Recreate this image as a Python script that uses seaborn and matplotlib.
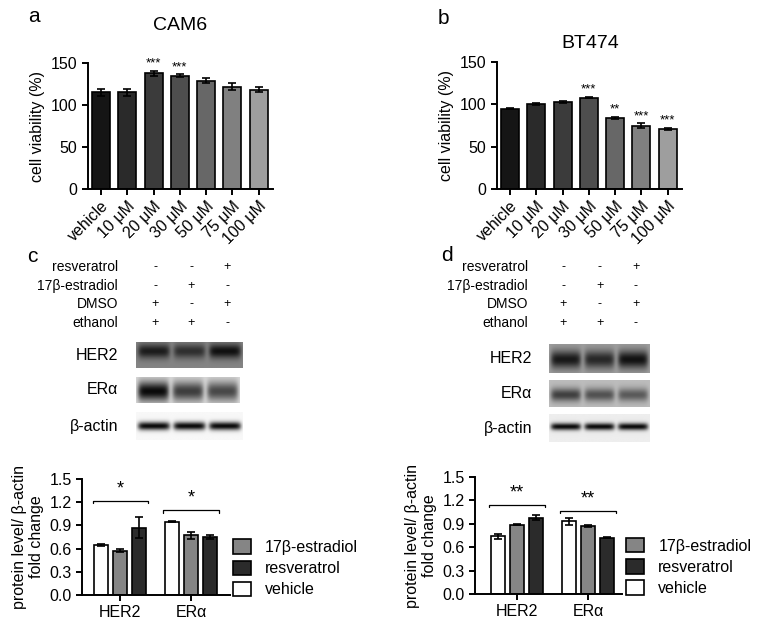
import numpy as np
import pandas as pd
import matplotlib
matplotlib.use('Agg')
import matplotlib.pyplot as plt
import seaborn as sns
from matplotlib.patches import Patch

sns.set_style('ticks')
plt.rcParams['font.family'] = ['Liberation Sans', 'DejaVu Sans']
plt.rcParams.update({
    'axes.linewidth': 1.4,
    'axes.edgecolor': 'black',
    'axes.labelcolor': 'black',
    'text.color': 'black',
    'xtick.color': 'black',
    'ytick.color': 'black',
    'xtick.major.width': 1.4,
    'ytick.major.width': 1.4,
    'xtick.major.size': 4,
    'ytick.major.size': 4,
    'xtick.labelsize': 11.5,
    'ytick.labelsize': 11.5,
    'axes.labelsize': 11.5,
})

# --- data ---
doses = ['vehicle', '10 μM', '20 μM', '30 μM', '50 μM', '75 μM', '100 μM']
cam6_mean = [115, 115, 138, 135, 129, 122, 118]
cam6_sd = [4, 4, 3, 2, 3, 4, 3]
cam6_sig = ['', '', '***', '***', '', '', '']
bt474_mean = [95, 100, 103, 108, 84, 75, 71]
bt474_sd = [1, 1, 1.5, 1, 1.5, 3, 1.5]
bt474_sig = ['', '', '', '***', '**', '***', '***']
dose_grays = ['#151515', '#2a2a2a', '#3b3b3b', '#4e4e4e', '#676767', '#808080', '#9e9e9e']

treat_rows = ['resveratrol', '17β-estradiol', 'DMSO', 'ethanol']
treat_signs = [['-', '-', '+'], ['-', '+', '-'], ['+', '-', '+'], ['+', '+', '-']]
blot_names = ['HER2', 'ERα', 'β-actin']

proteins = ['HER2', 'ERα']
treatments = ['vehicle', '17β-estradiol', 'resveratrol']
c_vehicle = [0.65, 0.95]
c_vehicle_sd = [0.01, 0.01]
c_estradiol = [0.57, 0.77]
c_estradiol_sd = [0.02, 0.045]
c_resveratrol = [0.87, 0.75]
c_resveratrol_sd = [0.135, 0.02]
c_sig = ['*', '*']
c_bracket = [1.22, 1.10]
d_vehicle = [0.74, 0.93]
d_vehicle_sd = [0.03, 0.04]
d_estradiol = [0.89, 0.87]
d_estradiol_sd = [0.01, 0.015]
d_resveratrol = [0.98, 0.72]
d_resveratrol_sd = [0.03, 0.005]
d_sig = ['**', '**']
d_bracket = [1.145, 1.07]
treat_colors = {'vehicle': 'white', '17β-estradiol': '#858585', 'resveratrol': '#2b2b2b'}

# band darkness per lane (blot panels, rough reading of the images)
c_blot_levels = [[0.85, 0.7, 0.95], [1.0, 0.75, 0.7], [1.0, 1.0, 1.0]]
d_blot_levels = [[0.9, 0.8, 0.95], [0.7, 0.6, 0.55], [1.0, 1.0, 1.0]]

W, H = 780, 628
fig = plt.figure(figsize=(W / 100, H / 100), dpi=100)


def px_axes(left, top, right, bottom):
    return fig.add_axes([left / W, 1 - bottom / H, (right - left) / W, (bottom - top) / H])


def viability_panel(box, means, sds, sig, title, letter, letter_xy, title_xy):
    ax = px_axes(*box)
    df = pd.DataFrame({'dose': doses, 'viability': means})
    sns.barplot(data=df, x='dose', y='viability', hue='dose', palette=dose_grays,
                width=0.69, edgecolor='black', linewidth=1.2, errorbar=None,
                legend=False, ax=ax)
    bars = sorted(ax.patches, key=lambda p: p.get_x())
    xs = [p.get_x() + p.get_width() / 2 for p in bars]
    ax.errorbar(xs, means, yerr=sds, fmt='none', ecolor='black', elinewidth=1.2,
                capsize=3, capthick=1.2, clip_on=False)
    for x, m, s, t in zip(xs, means, sds, sig):
        if t:
            ax.text(x, m + s + 1.0, t, ha='center', va='bottom', fontsize=9.5)
    ax.set_ylim(0, 150)
    ax.set_xlim(-0.5, 6.55)
    ax.set_yticks([0, 50, 100, 150])
    ax.set_xlabel('')
    ax.set_ylabel('cell viability (%)', labelpad=4)
    ax.set_xticks(range(len(doses)))
    ax.set_xticklabels(doses, rotation=45, ha='right', rotation_mode='anchor')
    ax.tick_params(axis='x', pad=3)
    sns.despine(ax=ax)
    fig.text(title_xy[0] / W, 1 - title_xy[1] / H, title, ha='center', va='center', fontsize=14)
    fig.text(letter_xy[0] / W, 1 - letter_xy[1] / H, letter, ha='center', va='center', fontsize=15)


def treatment_table(label_x, sign_xs, rows_y):
    for name, signs, y in zip(treat_rows, treat_signs, rows_y):
        fig.text(label_x / W, 1 - y / H, name, ha='right', va='center', fontsize=10)
        for sx, s in zip(sign_xs, signs):
            fig.text(sx / W, 1 - y / H, s, ha='center', va='center', fontsize=9)


def draw_blot(box, levels, bg, band_y, band_h):
    ax = px_axes(*box)
    ny, nx = 60, 300
    yy = np.linspace(0, 1, ny)[:, None]
    xx = np.linspace(0, 1, nx)[None, :]
    img = np.full((ny, nx), bg)
    n = len(levels)
    for i, lv in enumerate(levels):
        c = (i + 0.5) / n
        lane = np.exp(-((xx - c) / (0.45 / n)) ** 8)
        band = np.exp(-((yy - band_y) / band_h) ** 2)
        img = img - (bg - 0.04) * lv * lane * band
    ax.imshow(img, cmap='gray', vmin=0, vmax=1, aspect='auto', extent=(0, 1, 1, 0))
    ax.axis('off')


def quant_panel(box, xlim, veh, veh_sd, est, est_sd, res, res_sd, sig, bracket, leg_pos):
    ax = px_axes(*box)
    df = pd.DataFrame({
        'protein': proteins * 3,
        'treatment': [t for t in treatments for _ in proteins],
        'value': veh + est + res,
    })
    sds = {'vehicle': veh_sd, '17β-estradiol': est_sd, 'resveratrol': res_sd}
    vals = {'vehicle': veh, '17β-estradiol': est, 'resveratrol': res}
    sns.barplot(data=df, x='protein', y='value', hue='treatment', hue_order=treatments,
                palette=treat_colors, edgecolor='black', linewidth=1.2, errorbar=None,
                gap=0.25, legend=False, ax=ax)
    for cont, t in zip(ax.containers, treatments):
        xs = [b.get_x() + b.get_width() / 2 for b in cont]
        ax.errorbar(xs, vals[t], yerr=sds[t], fmt='none', ecolor='black', elinewidth=1.2,
                    capsize=3, capthick=1.2)
    for i, (s, yb) in enumerate(zip(sig, bracket)):
        x0, x1 = i - 0.39, i + 0.39
        ax.plot([x0, x0, x1, x1], [yb - 0.035, yb, yb, yb - 0.035], color='black',
                lw=0.9, clip_on=False)
        ax.text(i, yb + 0.04, s, ha='center', va='bottom', fontsize=13)
    ax.set_ylim(0, 1.5)
    ax.set_xlim(*xlim)
    ax.set_yticks([0, 0.3, 0.6, 0.9, 1.2, 1.5])
    ax.set_yticklabels(['0.0', '0.3', '0.6', '0.9', '1.2', '1.5'])
    ax.set_xlabel('')
    ax.set_ylabel('protein level/ β-actin\nfold change', labelpad=4, linespacing=1.15)
    sns.despine(ax=ax)
    handles = [Patch(facecolor=treat_colors[t], edgecolor='black', linewidth=1.2)
               for t in ['17β-estradiol', 'resveratrol', 'vehicle']]
    ax.legend(handles, ['17β-estradiol', 'resveratrol', 'vehicle'], loc='center left',
              bbox_to_anchor=leg_pos, frameon=False, fontsize=11.5, handlelength=1.1,
              handleheight=1.0, labelspacing=0.35, handletextpad=0.9, borderpad=0,
              borderaxespad=0)


# a / b
viability_panel((88, 63, 273, 189), cam6_mean, cam6_sd, cam6_sig, 'CAM6', 'a', (34, 17), (180, 25))
viability_panel((497, 62, 682, 189), bt474_mean, bt474_sd, bt474_sig, 'BT474', 'b', (443, 18), (590, 43))

# c / d treatment tables
rows_y = [267, 286, 304, 323]
treatment_table(118, [155, 191, 227], rows_y)
treatment_table(528, [563, 600, 636], rows_y)
fig.text(32 / W, 1 - 257 / H, 'c', ha='center', va='center', fontsize=15)
fig.text(447 / W, 1 - 255 / H, 'd', ha='center', va='center', fontsize=15)

# blots
c_boxes = [(136, 342, 243, 368), (136, 377, 239, 403), (136, 412, 243, 440)]
c_bg = [0.52, 0.85, 0.97]
c_band = [(0.35, 0.28), (0.55, 0.38), (0.5, 0.15)]
for bx, lv, bg, (by, bh), name in zip(c_boxes, c_blot_levels, c_bg, c_band, blot_names):
    draw_blot(bx, lv, bg, by, bh)
    fig.text(118 / W, 1 - (bx[1] + bx[3]) / 2 / H, name, ha='right', va='center', fontsize=11.5)

d_boxes = [(549, 344, 650, 373), (549, 380, 650, 407), (549, 414, 650, 442)]
d_bg = [0.62, 0.74, 0.93]
d_band = [(0.55, 0.3), (0.55, 0.25), (0.45, 0.13)]
for bx, lv, bg, (by, bh), name in zip(d_boxes, d_blot_levels, d_bg, d_band, blot_names):
    draw_blot(bx, lv, bg, by, bh)
    fig.text(532 / W, 1 - (bx[1] + bx[3]) / 2 / H, name, ha='right', va='center', fontsize=11.5)

# quantification
quant_panel((82, 479, 230, 595), (-0.54, 1.55), c_vehicle, c_vehicle_sd, c_estradiol,
            c_estradiol_sd, c_resveratrol, c_resveratrol_sd, c_sig, c_bracket, (1.02, 0.23))
quant_panel((475, 477, 622, 594), (-0.59, 1.48), d_vehicle, d_vehicle_sd, d_estradiol,
            d_estradiol_sd, d_resveratrol, d_resveratrol_sd, d_sig, d_bracket, (1.03, 0.23))

fig.savefig('out.png', dpi=100)
